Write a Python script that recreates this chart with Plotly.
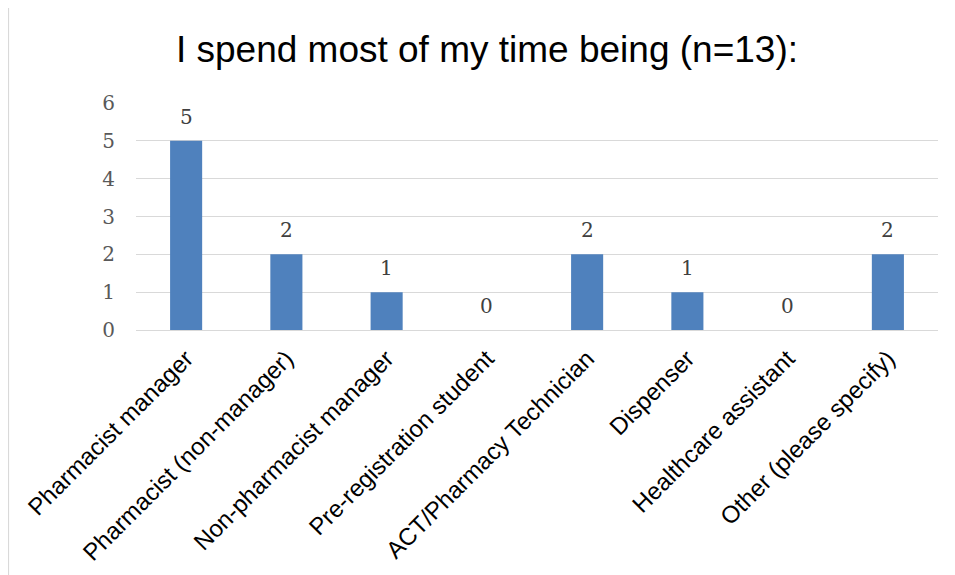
import plotly.graph_objects as go

categories = ["Pharmacist manager", "Pharmacist (non-manager)", "Non-pharmacist manager",
              "Pre-registration student", "ACT/Pharmacy Technician", "Dispenser",
              "Healthcare assistant", "Other (please specify)"]
counts = [5, 2, 1, 0, 2, 1, 0, 2]
y_ticks = [0, 1, 2, 3, 4, 5, 6]
title_text = "I spend most of my time being (n=13):"

# page has an 8px body margin, so the figure is sized to the remaining window
W, H = 947, 567
L, R, T, B = 128, 17, 95, 245
pw, ph = W - L - R, H - T - B

def px_x(px):
    return (px - L) / pw

def px_y(py):
    return (H - B - py) / ph

fig = go.Figure()
fig.add_trace(go.Bar(
    x=categories, y=counts, width=0.32,
    marker=dict(color="#4f81bd", line=dict(width=0)),
    hoverinfo="x+y",
))

for c, v in zip(categories, counts):
    fig.add_annotation(x=c, y=v, text=str(v), showarrow=False, yanchor="middle",
                       yshift=24, font=dict(family="DejaVu Serif", size=20, color="#404040"))

fig.add_shape(type="rect", xref="paper", yref="paper",
              x0=px_x(0.5), x1=px_x(W + 10), y0=px_y(H + 10), y1=px_y(-0.5),
              line=dict(color="#d9d9d9", width=1.2), fillcolor="rgba(0,0,0,0)", layer="below")

fig.update_layout(
    width=W, height=H,
    margin=dict(l=L, r=R, t=T, b=B, pad=0, autoexpand=False),
    paper_bgcolor="white", plot_bgcolor="white",
    title=dict(text=title_text, x=479 / W, xref="container", xanchor="center",
               y=1 - 41 / H, yref="container", yanchor="middle",
               font=dict(family="Liberation Sans", size=37, color="#000000")),
    showlegend=False,
    bargap=0.68,
)
fig.update_xaxes(
    tickangle=-45, tickfont=dict(family="Liberation Sans", size=24, color="#000000"),
    showgrid=False, showline=True, linecolor="#d9d9d9", linewidth=1.2,
    ticks="", ticklabelstandoff=4, fixedrange=True, automargin=False,
)
fig.update_yaxes(
    range=[0, 6], tickvals=y_ticks, ticktext=[str(t) for t in y_ticks],
    tickfont=dict(family="DejaVu Serif", size=20, color="#595959"),
    showgrid=True, gridcolor="#d9d9d9", gridwidth=1.2, zeroline=True,
    zerolinecolor="#d9d9d9", zerolinewidth=1.2, showline=False,
    ticks="", ticklabelstandoff=20, fixedrange=True, automargin=False,
)

fig.write_html("out.html")
